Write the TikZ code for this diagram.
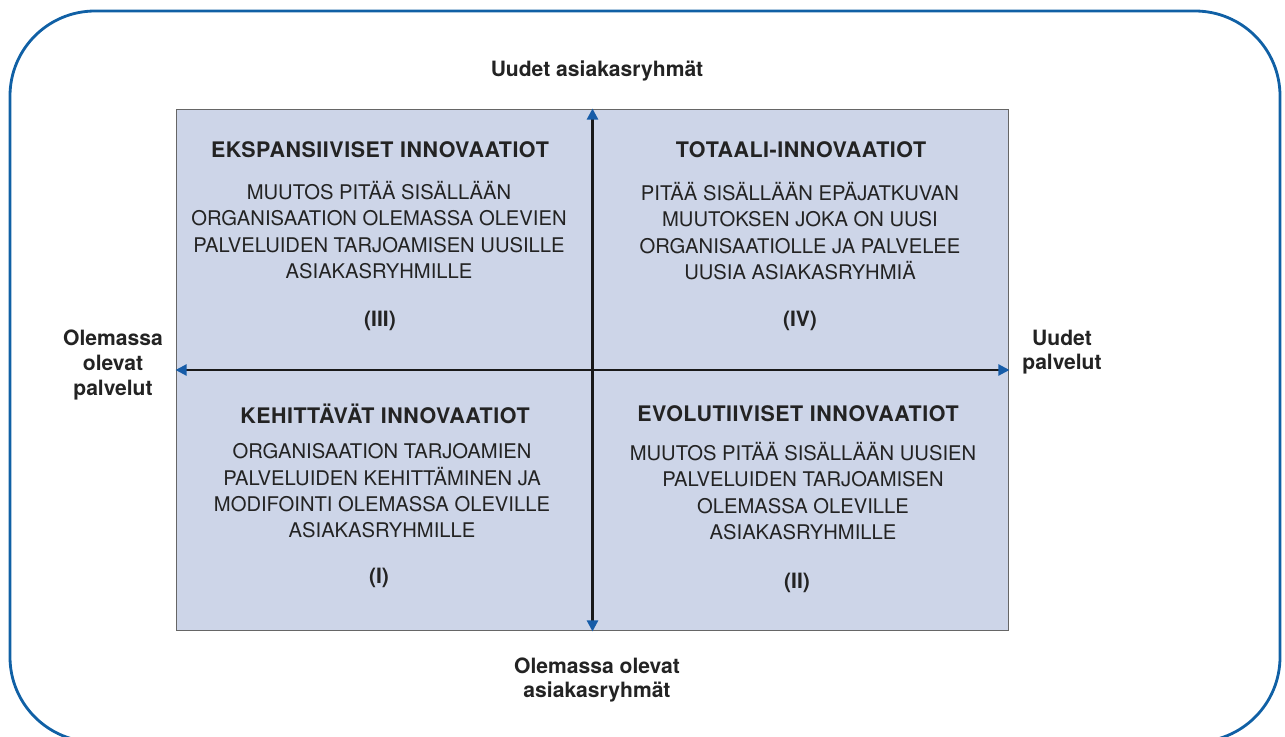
\documentclass[tikz,border=0pt]{standalone}
\usepackage{fontspec}
\setmainfont{TeX Gyre Heros}
\usepackage{tikz}
\usetikzlibrary{arrows.meta}
\definecolor{frameblue}{RGB}{16,96,165}
\definecolor{quadfill}{RGB}{205,213,232}
\definecolor{tipblue}{RGB}{22,92,168}
\definecolor{textgray}{RGB}{35,35,35}

\begin{document}
\begin{tikzpicture}[x=0.02cm,y=-0.02cm]
		\pgfmathsetmacro{\W}{1285}
		\pgfmathsetmacro{\H}{737}
		\tikzstyle{frame}=[draw=frameblue, line width=1.6pt, rounded corners=1.7cm]
		\tikzstyle{quadbox}=[draw=black!60, line width=.6pt, fill=quadfill, minimum width=16.66cm, minimum height=10.44cm]
		\tikzstyle{axis}=[draw, line width=1.3pt, black!90, {Triangle[color=tipblue, length=.22cm, width=.22cm]}-{Triangle[color=tipblue, length=.22cm, width=.22cm]}]
		\tikzstyle{quadtitle}=[text=textgray, font=\fontsize{12.2}{14}\selectfont\bfseries\addfontfeatures{LetterSpace=2.5}]
		\tikzstyle{quadbody}=[text=textgray, align=center, font=\fontsize{11.5}{15}\selectfont]
		\tikzstyle{numeral}=[text=textgray, font=\fontsize{12}{14}\selectfont\bfseries]
		\tikzstyle{axislabel}=[text=textgray, align=center, font=\fontsize{12}{14}\selectfont\bfseries]
		\useasboundingbox (0,0) rectangle (\W,\H);
		\draw[frame] (10,11) rectangle (1280,742);

		\node[quadbox] (grid) at (592.5,370) {};
		\draw[axis] (grid.south) -- (grid.north);
		\draw[axis] (grid.west) -- (grid.east);

		\node[axislabel] (newcust) at (597,71) {Uudet asiakasryhmät};
		\node[axislabel] (oldcust) at (597,680) {Olemassa olevat\\asiakasryhmät};
		\node[axislabel] (oldserv) at (113,365) {Olemassa\\olevat\\palvelut};
		\node[axislabel] (newserv) at (1062,352) {Uudet\\palvelut};

		\node[quadtitle] (t3) at (380,150) {EKSPANSIIVISET INNOVAATIOT};
		\node[quadbody] (b3) at (379,230) {MUUTOS PITÄÄ SISÄLLÄÄN\\ORGANISAATION OLEMASSA OLEVIEN\\PALVELUIDEN TARJOAMISEN UUSILLE\\ASIAKASRYHMILLE};
		\node[numeral] (n3) at (380,321) {(III)};

		\node[quadtitle] (t4) at (801,150) {TOTAALI-INNOVAATIOT};
		\node[quadbody] (b4) at (800,231) {PITÄÄ SISÄLLÄÄN EPÄJATKUVAN\\MUUTOKSEN JOKA ON UUSI\\ORGANISAATIOLLE JA PALVELEE\\UUSIA ASIAKASRYHMIÄ};
		\node[numeral] (n4) at (800,321) {(IV)};

		\node[quadtitle] (t1) at (385,414) {KEHITTÄVÄT INNOVAATIOT};
		\node[quadbody] (b1) at (382,491) {ORGANISAATION TARJOAMIEN\\PALVELUIDEN KEHITTÄMINEN JA\\MODIFOINTI OLEMASSA OLEVILLE\\ASIAKASRYHMILLE};
		\node[numeral] (n1) at (379,578) {(I)};

		\node[quadtitle] (t2) at (798,414) {EVOLUTIIVISET INNOVAATIOT};
		\node[quadbody] (b2) at (803,491) {MUUTOS PITÄÄ SISÄLLÄÄN UUSIEN\\PALVELUIDEN TARJOAMISEN\\OLEMASSA OLEVILLE\\ASIAKASRYHMILLE};
		\node[numeral] (n2) at (797,583) {(II)};
	\end{tikzpicture}
\end{document}
